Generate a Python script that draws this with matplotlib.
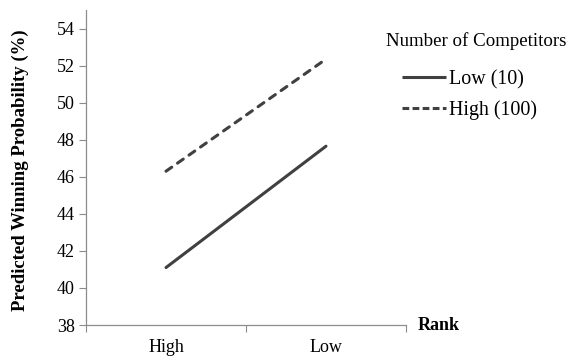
import matplotlib.pyplot as plt
from matplotlib.lines import Line2D

# data
rank = ['High', 'Low']
low_competitors = [41.1, 47.65]
high_competitors = [46.3, 52.35]
series_labels = ['Low (10)', 'High (100)']
yticks = [38, 40, 42, 44, 46, 48, 50, 52, 54]

plt.rcParams['font.family'] = ['Liberation Serif', 'DejaVu Serif']
line_color = '#404040'
axis_color = '#8c8c8c'
dash = (0, (2.3, 2.3))

fig = plt.figure(figsize=(5.69, 3.58), dpi=100)
ax = fig.add_axes([86 / 569, 1 - 325 / 358, 320 / 569, 315 / 358])

x = [0.5, 1.5]
ax.plot(x, low_competitors, color=line_color, lw=2.2, solid_capstyle='round')
ax.plot(x, high_competitors, color=line_color, lw=2.2, linestyle=dash,
        dash_capstyle='round')

ax.set_xlim(0, 2)
ax.set_ylim(38, 55)
ax.set_yticks(yticks)
ax.set_yticklabels([str(v) for v in yticks], fontsize=13)
ax.set_xticks([0, 1, 2])
ax.set_xticklabels([])
ax.set_xticks(x, minor=True)
ax.set_xticklabels(rank, minor=True, fontsize=13)
ax.tick_params(axis='x', which='minor', length=0, pad=10)
ax.tick_params(axis='x', which='major', length=5, color=axis_color, direction='out')
ax.tick_params(axis='y', length=5, color=axis_color, direction='out', pad=3)

for s in ['top', 'right']:
    ax.spines[s].set_visible(False)
for s in ['left', 'bottom']:
    ax.spines[s].set_color(axis_color)
    ax.spines[s].set_linewidth(0.9)

ax.set_ylabel('Predicted Winning Probability (%)', fontsize=13.5, fontweight='bold')
ax.yaxis.set_label_coords(-0.178, 0.49)
fig.text(418 / 569, 1 - 325 / 358, 'Rank', fontsize=13, fontweight='bold', va='center', ha='left')

# legend
fig.text(386 / 569, 1 - 41 / 358, 'Number of Competitors', fontsize=13.6, va='center', ha='left')
handles = [Line2D([], [], color=line_color, lw=2.2, solid_capstyle='butt'),
           Line2D([], [], color=line_color, lw=2.2, linestyle=(0, (2.2, 1.1)), dash_capstyle='butt')]
ax.legend(handles, series_labels, loc='upper left', bbox_to_anchor=(402 / 569, 1 - 70 / 358),
          bbox_transform=fig.transFigure, frameon=False, fontsize=14.4, borderpad=0,
          borderaxespad=0, handlelength=2.2, handletextpad=0.15, labelspacing=0.55)

fig.savefig('out.png', dpi=100)
